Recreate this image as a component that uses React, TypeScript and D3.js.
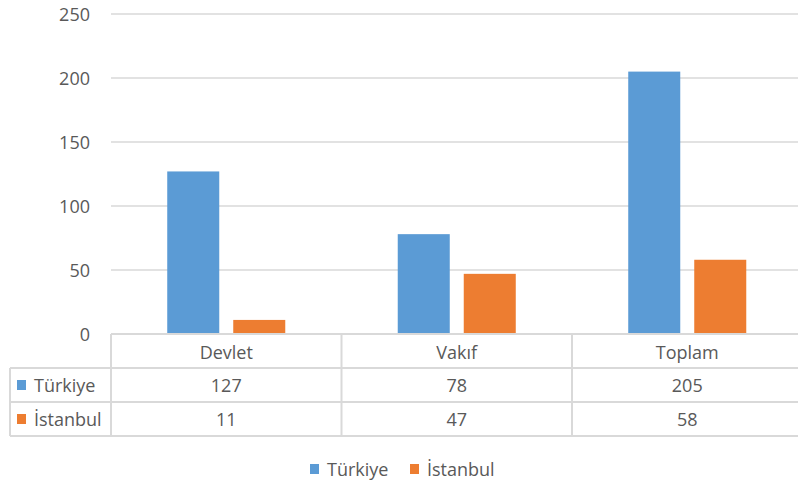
import * as d3 from "d3";

// chart data
const categories = ["Devlet", "Vakıf", "Toplam"];
const seriesNames = ["Türkiye", "İstanbul"];
const turkiye = [127, 78, 205];
const istanbul = [11, 47, 58];
const yTicks = [0, 50, 100, 150, 200, 250];

const colors = ["#5b9bd5", "#ed7d31"];
const W = 798;
const H = 487;
const font = "'Open Sans', 'Liberation Sans', sans-serif";
const textColor = "#595959";
const lineColor = "#d9d9d9";

export default function App() {
    const values = [turkiye, istanbul];
    const plotLeft = 111;
    const plotRight = 802.5;
    const y = d3.scaleLinear().domain([0, 250]).range([334, 14]);
    const x = d3.scaleBand().domain(categories).range([plotLeft, plotRight]).padding(0);
    const xSub = d3
        .scaleBand()
        .domain(seriesNames)
        .range([0, x.bandwidth()])
        .paddingInner(0.212)
        .paddingOuter(0.852);

    // table rows
    const tableTop = y(0);
    const rowH = [tableTop, 368, 402, 436];
    const tableLeft = 10;

    return (
        <svg
            width={W}
            height={H}
            style={{ position: "absolute", left: 0, top: 0, background: "#fff" }}
            fontFamily={font}
        >
            {/* gridlines */}
            {yTicks.map((t) => (
                <g key={t}>
                    {t > 0 && (
                        <line
                            x1={plotLeft}
                            x2={W}
                            y1={y(t)}
                            y2={y(t)}
                            stroke={lineColor}
                            strokeWidth={1.5}
                        />
                    )}
                    <text
                        x={90}
                        y={y(t)}
                        textAnchor="end"
                        dominantBaseline="central"
                        fontSize={18}
                        fill={textColor}
                    >
                        {t}
                    </text>
                </g>
            ))}

            {/* bars */}
            {categories.map((c, i) => (
                <g key={c} transform={`translate(${x(c)},0)`}>
                    {seriesNames.map((s, j) => (
                        <rect
                            key={s}
                            x={xSub(s)}
                            y={y(values[j][i])}
                            width={xSub.bandwidth()}
                            height={y(0) - y(values[j][i])}
                            fill={colors[j]}
                        />
                    ))}
                </g>
            ))}

            {/* data table */}
            <g stroke={lineColor} strokeWidth={2} fill="none">
                <line x1={plotLeft} x2={W} y1={rowH[0]} y2={rowH[0]} />
                <line x1={tableLeft} x2={W} y1={rowH[1]} y2={rowH[1]} />
                <line x1={tableLeft} x2={W} y1={rowH[2]} y2={rowH[2]} />
                <line x1={tableLeft} x2={W} y1={rowH[3]} y2={rowH[3]} />
                <line x1={tableLeft} x2={tableLeft} y1={rowH[1]} y2={rowH[3]} />
                {categories.map((c) => (
                    <line key={c} x1={x(c)} x2={x(c)} y1={rowH[0]} y2={rowH[3]} />
                ))}
            </g>
            {categories.map((c) => (
                <text
                    key={c}
                    x={(x(c) as number) + x.bandwidth() / 2}
                    y={(rowH[0] + rowH[1]) / 2 + 1}
                    textAnchor="middle"
                    dominantBaseline="central"
                    fontSize={18}
                    fill={textColor}
                >
                    {c}
                </text>
            ))}
            {seriesNames.map((s, j) => (
                <g key={s}>
                    <rect
                        x={17}
                        y={(rowH[j + 1] + rowH[j + 2]) / 2 - 5}
                        width={9}
                        height={10}
                        fill={colors[j]}
                    />
                    <text
                        x={34}
                        y={(rowH[j + 1] + rowH[j + 2]) / 2}
                        dominantBaseline="central"
                        fontSize={18}
                        fill={textColor}
                    >
                        {s}
                    </text>
                    {categories.map((c, i) => (
                        <text
                            key={c}
                            x={(x(c) as number) + x.bandwidth() / 2}
                            y={(rowH[j + 1] + rowH[j + 2]) / 2}
                            textAnchor="middle"
                            dominantBaseline="central"
                            fontSize={18}
                            fill={textColor}
                        >
                            {values[j][i]}
                        </text>
                    ))}
                </g>
            ))}

            {/* legend */}
            {seriesNames.map((s, j) => {
                const lx = [310, 410][j];
                return (
                    <g key={s}>
                        <rect x={lx} y={464} width={9} height={10} fill={colors[j]} />
                        <text
                            x={lx + 17}
                            y={469}
                            dominantBaseline="central"
                            fontSize={18}
                            fill={textColor}
                        >
                            {s}
                        </text>
                    </g>
                );
            })}
        </svg>
    );
}
